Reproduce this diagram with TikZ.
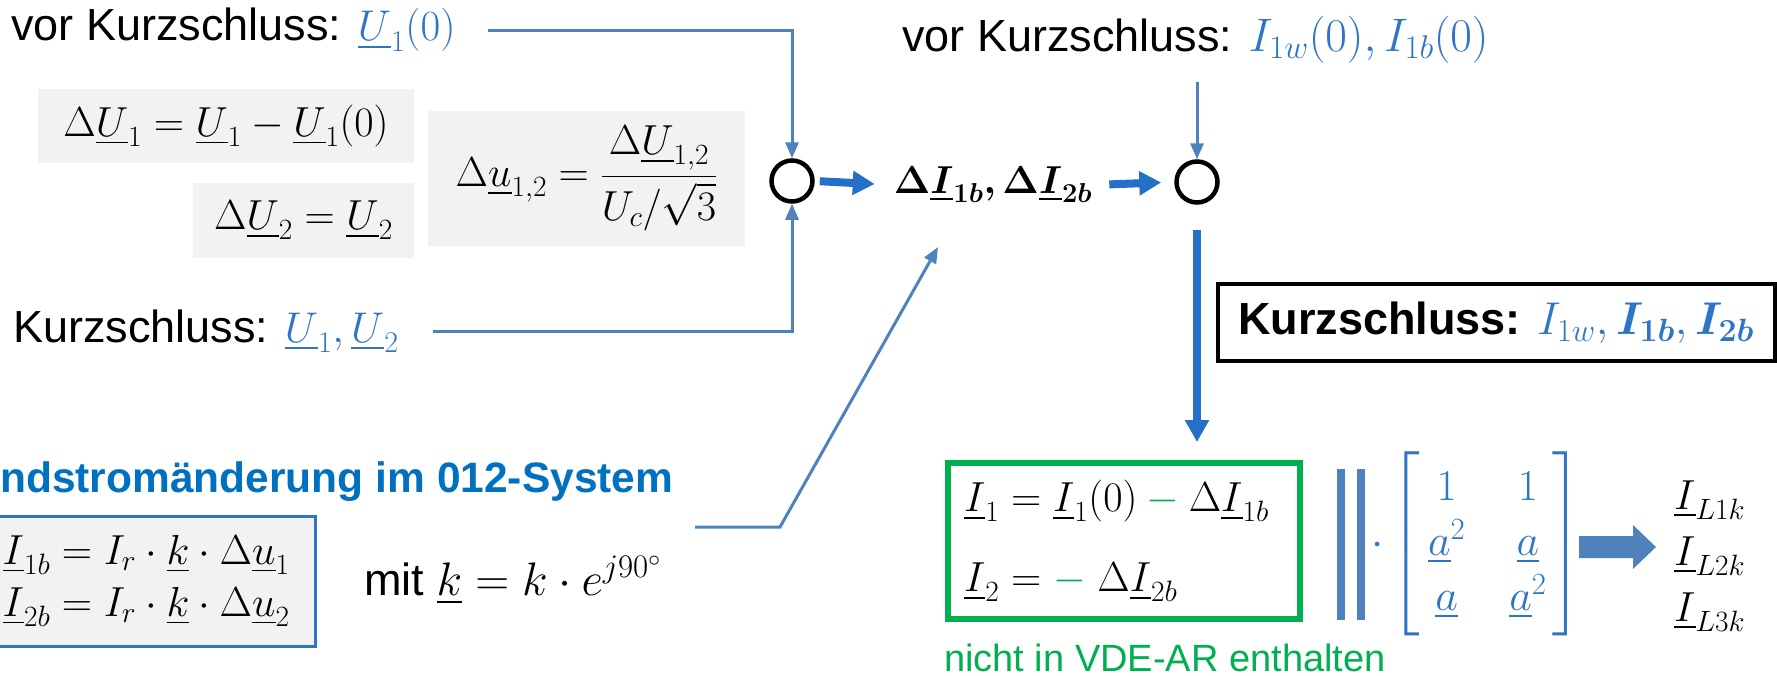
\RequirePackage{fix-cm}
\documentclass[tikz,border=0pt]{standalone}
\usepackage{amsmath, amssymb}
\usepackage{bm}
\usepackage{fontspec}
\setmainfont{Liberation Sans}
\usepackage{tikz}
\usetikzlibrary{arrows.meta, positioning, calc, shapes}

\definecolor{mathblue}{HTML}{2E75C6}
\definecolor{lineblue}{HTML}{4F81BD}
\definecolor{flowblue}{HTML}{2470C8}
\definecolor{titleblue}{HTML}{0070C0}
\definecolor{boxgray}{HTML}{F2F2F2}
\definecolor{vdegreen}{HTML}{00B050}

\newcommand{\msize}[1]{\fontsize{#1}{50}\selectfont}

\begin{document}
\begin{tikzpicture}[x=1pt, y=-1pt,
    every node/.style={font=\fontsize{42}{50}\selectfont, inner sep=0pt},
    label text/.style={font=\fontsize{45}{52}\selectfont},
    feed/.style={draw=lineblue, line width=3pt, -{Triangle[length=16pt, width=13pt]}},
    flow/.style={draw=flowblue, line width=8pt, -{Triangle[length=22pt, width=23pt]}},
    graybox/.style={fill=boxgray},
    sumpt/.style={circle, draw, line width=4.5pt, minimum size=41pt},
    bar/.style={draw=lineblue, line width=8pt}]
    \useasboundingbox (0,0) rectangle (1777,675);

    % Spannungen
    \node[label text, anchor=west] (vorU) at (11,30) {vor Kurzschluss: \textcolor{mathblue}{\msize{43}$\underline{U}_1(0)$}};
    \node[graybox, minimum width=376pt, minimum height=74pt] (dU1) at (226,126) {$\Delta\underline{U}_1 = \underline{U}_1 - \underline{U}_1(0)$};
    \node[graybox, minimum width=221pt, minimum height=75pt] (dU2) at (303.5,220.5) {$\Delta\underline{U}_2 = \underline{U}_2$};
    \node[graybox, minimum width=317pt, minimum height=135pt] (du12) at (586.5,178.5) {$\Delta\underline{u}_{1,2} = \dfrac{\Delta\underline{U}_{1,2}}{U_c/\sqrt{3}}$};
    \node[label text, anchor=west] (kurzU) at (13,331) {Kurzschluss: \textcolor{mathblue}{\msize{43}$\underline{U}_1, \underline{U}_2$}};

    % Verknuepfung
    \node[sumpt] (sum1) at (792,181) {};
    \node[font=\msize{39}] (dI) at (993,185) {$\bm{\Delta\underline{I}_{1b}, \Delta\underline{I}_{2b}}$};
    \node[sumpt] (sum2) at (1197,182) {};
    \node[label text, anchor=west] (vorI) at (902,40) {vor Kurzschluss: \textcolor{mathblue}{\msize{47}$I_{1w}(0), I_{1b}(0)$}};
    \node[label text, draw, line width=4pt, minimum width=557pt, minimum height=77pt] (kurzI) at (1496,322.5) {\textbf{Kurzschluss:} \textcolor{mathblue}{\msize{46}$I_{1w}, \bm{I_{1b}}, \bm{I_{2b}}$}};

    % Stromaenderung
    \node[anchor=west, text=titleblue, font=\bfseries\fontsize{42.5}{50}\selectfont] (title) at (0,482) {ndstromänderung im 012-System};
    \node[draw=mathblue, fill=boxgray, line width=3pt, anchor=east, align=left,
          inner xsep=26pt, minimum height=130pt] (dIbox) at (317,581)
          {$\underline{I}_{1b} = I_r\cdot\underline{k}\cdot\Delta\underline{u}_1$\\[2pt]$\underline{I}_{2b} = I_r\cdot\underline{k}\cdot\Delta\underline{u}_2$};
    \node[label text, anchor=west] (mitk) at (364,580) {mit \msize{47}$\underline{k} = k\cdot e^{j90^\circ}$};
    \coordinate (mitend) at (695,527);
    \coordinate (mitbend) at (780,527);
    \coordinate (dItip) at (938,247);

    % Ergebnis
    \node[draw=vdegreen, line width=6pt, text width=320pt, inner xsep=16pt, align=left,
          minimum height=156pt] (result) at (1124,541)
          {$\underline{I}_1 = \underline{I}_1(0) \mathbin{\color{vdegreen}-} \Delta\underline{I}_{1b}$\\[30pt]$\underline{I}_2 = {\color{vdegreen}-}\;\Delta\underline{I}_{2b}$};
    \node[anchor=west, text=vdegreen, font=\fontsize{38}{44}\selectfont] (note) at (944,658) {nicht in VDE-AR enthalten};
    \draw[bar] (1341,469) -- (1341,620);
    \draw[bar] (1361,469) -- (1361,620);
    \node[anchor=west, text=mathblue, font=\msize{44}] (sym) at (1371,544)
          {$\cdot\renewcommand{\arraystretch}{1.1}\left[\begin{array}{@{\hspace{8pt}}c@{\hspace{44pt}}c@{\hspace{6pt}}}1 & 1\\ \underline{a}^2 & \underline{a}\\ \underline{a} & \underline{a}^2\end{array}\right]$};
    \fill[lineblue] (1579,536) -- (1633,536) -- (1633,525) -- (1656,547)
          -- (1633,569) -- (1633,558) -- (1579,558) -- cycle;
    \node[anchor=west, align=left] (ILk) at (1674,556) {$\underline{I}_{L1k}$\\[6pt]$\underline{I}_{L2k}$\\[6pt]$\underline{I}_{L3k}$};

    % Pfeile
    \draw[feed] ([xshift=32pt]vorU.east) -| (sum1.north);
    \draw[feed] ([xshift=34pt]kurzU.east) -| (sum1.south);
    \draw[flow, shorten <=5pt, shorten >=19pt] (sum1.east) -- (dI.west);
    \draw[flow, shorten <=17pt, shorten >=13pt] (dI.east) -- (sum2.west);
    \draw[feed, shorten <=18pt] (vorI.south -| sum2.north) -- (sum2.north);
    \draw[flow, shorten <=25pt, shorten >=18pt] (sum2.south) -- (sum2.south |- result.north);
    \draw[feed] (mitend) -- (mitbend) -- (dItip);
\end{tikzpicture}
\end{document}
